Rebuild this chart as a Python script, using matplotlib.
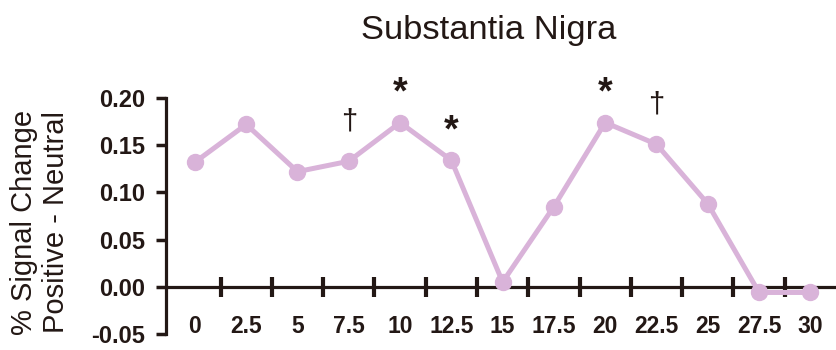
import matplotlib
matplotlib.use('Agg')
import matplotlib.pyplot as plt

# time bins (s) and % signal change, positive - neutral
times = [0, 2.5, 5, 7.5, 10, 12.5, 15, 17.5, 20, 22.5, 25, 27.5, 30]
signal = [0.132, 0.172, 0.122, 0.133, 0.174, 0.134, 0.005, 0.085, 0.174, 0.151, 0.088, -0.006, -0.006]
tick_labels = ['0', '2.5', '5', '7.5', '10', '12.5', '15', '17.5', '20', '22.5', '25', '27.5', '30']
y_ticks = [-0.05, 0.00, 0.05, 0.10, 0.15, 0.20]

# significance marks above the points
sig_x = [7.5, 10, 12.5, 20, 22.5]
sig_marks = ['\u2020', '*', '*', '*', '\u2020']

plt.rcParams['font.family'] = ['Liberation Sans', 'DejaVu Sans']
axis_col = '#231815'
line_col = '#d9b3d9'

fig = plt.figure(figsize=(8.37, 3.5), dpi=100)
ax = fig.add_axes([166 / 837, 16 / 350, 1 - 166 / 837, 236 / 350])

ax.plot(times, signal, color=line_col, lw=3.6, marker='o', ms=11.5,
        clip_on=False, zorder=3)

ax.set_xlim(-1.41, 31.3)
ax.set_ylim(-0.05, 0.20)

for s in ['top', 'right']:
    ax.spines[s].set_visible(False)
ax.spines['left'].set_bounds(-0.05, 0.20)
ax.spines['left'].set_linewidth(2.3)
ax.spines['left'].set_color(axis_col)
ax.spines['bottom'].set_position(('data', 0))
ax.spines['bottom'].set_linewidth(2.3)
ax.spines['bottom'].set_color(axis_col)

ax.set_yticks(y_ticks)
ax.set_yticklabels(['%.2f' % v for v in y_ticks], fontsize=17, fontweight='bold')
ax.tick_params(axis='y', direction='out', length=7, width=2.5, color=axis_col,
               pad=8, labelcolor=axis_col)

ax.set_xticks(times)
ax.set_xticklabels(tick_labels, fontsize=16.5, fontweight='bold')
mids = [(times[i] + times[i + 1]) / 2 for i in range(len(times) - 1)]
ax.set_xticks(mids, minor=True)
ax.tick_params(axis='x', which='major', length=0, pad=20, labelcolor=axis_col)
ax.tick_params(axis='x', which='minor', direction='inout', length=14, width=3,
               color=axis_col)

for x, m in zip(sig_x, sig_marks):
    y = signal[times.index(x)]
    if m == '*':
        ax.text(x, y + 0.031, m, ha='center', va='center', fontsize=27,
                fontweight='bold', color=axis_col, clip_on=False)
    else:
        ax.text(x, y + 0.042, m, ha='center', va='center', fontsize=21,
                color=axis_col, clip_on=False)

fig.text(489 / 837, 1 - 31 / 350, 'Substantia Nigra', ha='center', va='center',
         fontsize=24.8, color=axis_col)
fig.text(40 / 837, 1 - 222 / 350, '% Signal Change\nPositive - Neutral',
         rotation=90, ha='center', va='center', multialignment='center',
         fontsize=21, color=axis_col, linespacing=1.2)

fig.savefig('out.png', dpi=100)
